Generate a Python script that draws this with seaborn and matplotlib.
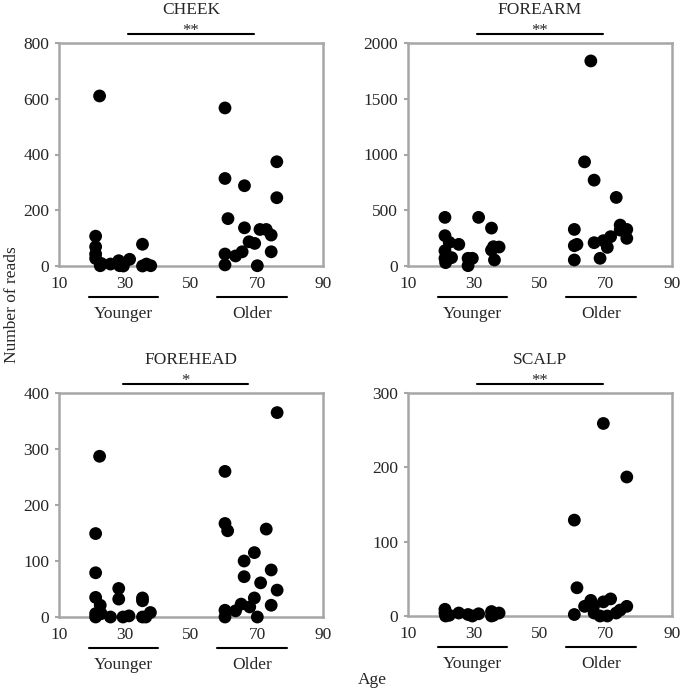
import pandas as pd
import matplotlib.pyplot as plt
import matplotlib.transforms as mtransforms
import seaborn as sns

# ages and read counts
cheek_age = [21.1, 21.1, 21.1, 21.1, 22.3, 22.5, 22.8, 25.6, 28.1, 28.4, 29.5, 31.4, 35.3, 35.3, 36.5, 37.8,
             60.3, 60.3, 60.3, 60.3, 61.2, 63.5, 65.5, 66.2, 66.2, 67.6, 69.3, 70.1, 70.9, 72.8, 74.3, 74.3, 76.0, 76.0]
cheek_reads = [107, 69, 43, 27, 610, 1, 9, 7, 19, 1, 0, 24, 78, 0, 7, 1,
               567, 314, 43, 4, 170, 36, 51, 137, 288, 87, 81, 1, 131, 131, 111, 51, 374, 245]

forearm_age = [21.2, 21.2, 22.5, 21.2, 21.2, 21.4, 23.2, 25.4, 28.2, 28.2, 29.5, 31.4, 35.3, 35.3, 35.9, 36.2, 37.6,
               60.4, 60.4, 60.4, 61.2, 63.5, 65.4, 66.4, 66.4, 68.2, 69.2, 70.4, 71.4, 73.1, 74.3, 74.3, 76.3, 76.3]
forearm_reads = [436, 272, 212, 137, 69, 30, 75, 194, 3, 69, 69, 436, 340, 143, 173, 54, 170,
                 328, 54, 182, 194, 934, 1839, 770, 209, 69, 227, 167, 263, 615, 367, 322, 328, 248]

forehead_age = [21.1, 21.1, 21.1, 21.1, 21.1, 22.3, 22.5, 22.8, 25.6, 28.1, 28.1, 29.4, 31.2, 35.3, 35.3, 35.3, 36.3, 37.7,
                60.3, 60.3, 61.1, 60.3, 60.3, 63.5, 65.2, 66.1, 66.1, 67.8, 69.2, 69.2, 70.1, 71.1, 72.8, 74.3, 74.3, 76.1, 76.1]
forehead_reads = [149, 79, 35, 6, 0, 287, 21, 6, 0, 51, 32, 0, 2, 34, 29, 0, 0, 8,
                  260, 167, 154, 12, 0, 11, 23, 100, 72, 18, 34, 115, 0, 61, 157, 84, 21, 365, 48]

scalp_age = [21.2, 21.2, 21.4, 22.5, 25.4, 28.2, 29.5, 31.4, 35.3, 35.3, 35.9, 37.6,
             60.4, 60.4, 61.2, 63.5, 65.4, 66.2, 66.4, 68.2, 69.2, 69.2, 70.4, 71.4, 73.1, 74.3, 76.3, 76.3]
scalp_reads = [9, 4, 0, 1, 4, 2, 0, 3, 6, 0, 1, 4,
               129, 2, 38, 13, 21, 13, 4, 0, 259, 19, 0, 23, 4, 8, 187, 13]

sites = ["CHEEK", "FOREARM", "FOREHEAD", "SCALP"]
stars = ["**", "**", "*", "**"]
y_max = [800, 2000, 400, 300]
y_step = [200, 500, 100, 100]
sig_span = [(31, 69), (31, 69), (29.3, 67.2), (31, 69)]

df = pd.concat([
    pd.DataFrame({"site": "CHEEK", "age": cheek_age, "reads": cheek_reads}),
    pd.DataFrame({"site": "FOREARM", "age": forearm_age, "reads": forearm_reads}),
    pd.DataFrame({"site": "FOREHEAD", "age": forehead_age, "reads": forehead_reads}),
    pd.DataFrame({"site": "SCALP", "age": scalp_age, "reads": scalp_reads}),
])

sns.set_theme(style="white")
plt.rcParams["font.family"] = ["Liberation Serif", "DejaVu Serif"]
plt.rcParams["font.size"] = 12.5

grey = "#A6A6A6"
fig = plt.figure(figsize=(6.85, 6.9), dpi=100)
W, H = 685, 690
# axes boxes in pixels: left, top, right, bottom
boxes = [(59, 43, 323, 266), (408, 43, 672, 266), (59, 393, 323, 617), (408, 393, 672, 616)]

for site, star, ym, ys, span, (l, t, r, b) in zip(sites, stars, y_max, y_step, sig_span, boxes):
    ax = fig.add_axes([l / W, 1 - b / H, (r - l) / W, (b - t) / H])
    sns.scatterplot(data=df[df.site == site], x="age", y="reads", ax=ax,
                    color="black", s=85, edgecolor="none", clip_on=False, zorder=3)
    ax.set_xlim(10, 90)
    ax.set_ylim(0, ym)
    ax.set_xticks([10, 30, 50, 70, 90])
    ax.set_yticks(range(0, ym + 1, ys))
    ax.set_xlabel("")
    ax.set_ylabel("")
    for sp in ax.spines.values():
        sp.set_color(grey)
        sp.set_linewidth(1.8)
    ax.tick_params(axis="y", length=3, width=1.5, color=grey, pad=4, left=True, labelsize=12.5)
    ax.tick_params(axis="x", length=0, pad=7, labelsize=12.5)

    h = b - t
    trans = mtransforms.blended_transform_factory(ax.transData, ax.transAxes)
    # significance bar and title
    ax.plot(span, [1 + 9 / h] * 2, color="black", lw=1.5, transform=trans, clip_on=False)
    ax.text(sum(span) / 2, 1 + 8 / h, star, transform=trans, ha="center", va="baseline", fontsize=12)
    ax.text(50, 1 + 25 / h, site, transform=trans, ha="center", va="bottom", fontsize=12.5)
    # group bars under the axis
    for (x0, x1), lab in [((19, 40), "Younger"), ((58, 79), "Older")]:
        ax.plot([x0, x1], [-31 / h] * 2, color="black", lw=1.5, transform=trans, clip_on=False)
        ax.text((x0 + x1) / 2, -40 / h, lab, transform=trans, ha="center", va="top", fontsize=12.5)

fig.text(12 / W, 1 - 305 / H, "Number of reads", rotation=90, ha="center", va="center", fontsize=12.5)
fig.text(372 / W, 1 - 680 / H, "Age", ha="center", va="center", fontsize=12.5)

fig.savefig("out.png", dpi=100)
